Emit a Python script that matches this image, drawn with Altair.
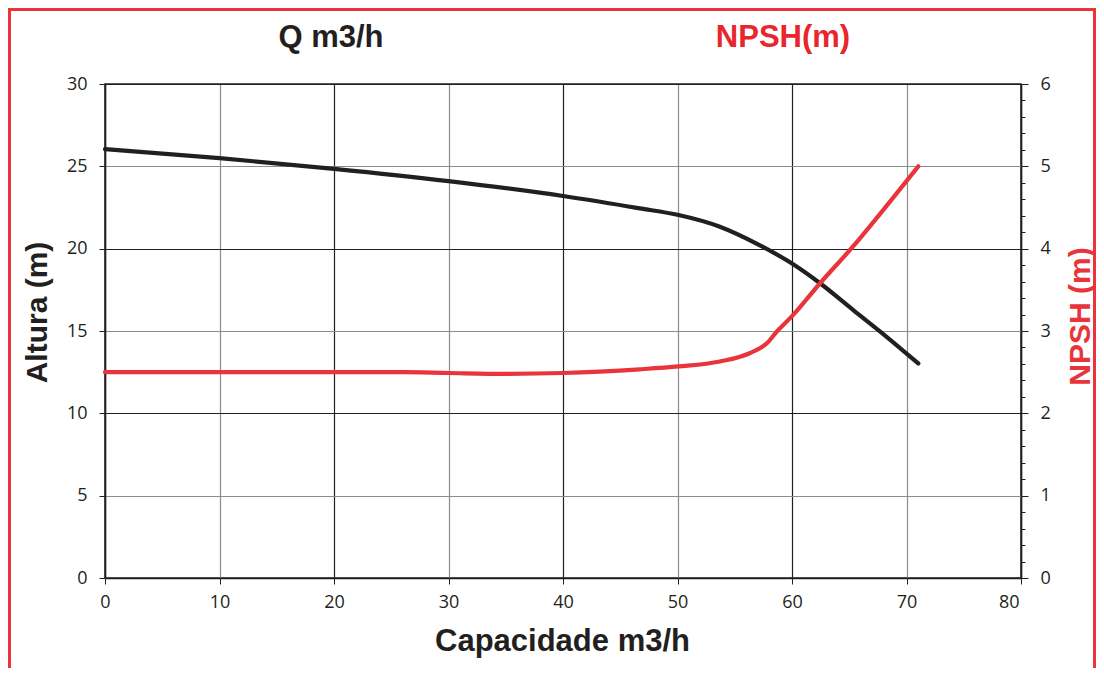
import altair as alt
import pandas as pd

# Altura (black) curve
q_alt = [0, 10, 20, 30, 40, 46.7, 50.1, 53.7, 57.2, 60.0, 62.45, 65.35, 68.26, 71.03]
altura = [26.05, 25.5, 24.85, 24.1, 23.2, 22.45, 22.04, 21.33, 20.2, 19.1, 17.9, 16.27, 14.65, 13.03]

# NPSH (red) curve
q_npsh = [0, 10, 20, 26, 30, 35, 40, 46.7, 50.1, 53.7, 56.3, 57.8, 58.65, 60.0, 62.45, 65.35, 68.26, 71.03]
npsh = [2.5, 2.5, 2.5, 2.5, 2.49, 2.48, 2.49, 2.535, 2.57, 2.63, 2.73, 2.85, 2.99, 3.18, 3.58, 4.03, 4.52, 5.0]

x_ticks = [0, 10, 20, 30, 40, 50, 60, 70, 80]
y_ticks = [0, 5, 10, 15, 20, 25, 30]
npsh_ticks = [round(i * 0.2, 1) for i in range(31)]

top_titles = ["Q m3/h", "NPSH(m)"]

BLACK = "#231f20"
RED = "#e8343a"
TITLE_RED = "#e8262d"
LABEL_FONT = "Open Sans"
TITLE_FONT = "Liberation Sans"

df_alt = pd.DataFrame({"q": q_alt, "altura": altura})
df_npsh = pd.DataFrame({"q": q_npsh, "npsh": npsh})

x_axis = alt.Axis(
    values=x_ticks, title="Capacidade m3/h", grid=True, labelFlush=False,
    labelAlign={"condition": {"test": "datum.value === 80", "value": "right"}, "value": "center"},
    labelOffset={"condition": {"test": "datum.value === 80", "value": -2}, "value": 0},
    gridColor={"condition": {"test": "datum.value % 20 === 0", "value": BLACK}, "value": "#8c8c8c"},
    gridWidth=1.2, tickSize=6, tickColor=BLACK, labelPadding=9,
    titleX=457, titleY=63, titleBaseline="middle", titleAlign="center", titleFontSize=31,
)
x_enc = alt.X("q:Q", scale=alt.Scale(domain=[0, 80], nice=False), axis=x_axis)

line_alt = alt.Chart(df_alt).mark_line(color=BLACK, strokeWidth=4.2, interpolate="monotone", strokeCap="round").encode(
    x=x_enc,
    y=alt.Y("altura:Q", scale=alt.Scale(domain=[0, 30], nice=False),
            axis=alt.Axis(values=y_ticks, title="Altura (m)", grid=True,
                          gridColor={"condition": {"test": "datum.value % 10 === 0", "value": BLACK}, "value": "#8c8c8c"},
                          gridWidth=1.2, tickSize=6, tickColor=BLACK, labelPadding=12,
                          titleAngle=270, titleX=-68, titleY=228, titleAlign="center", titleBaseline="middle")),
)

line_npsh = alt.Chart(df_npsh).mark_line(color=RED, strokeWidth=4.2, interpolate="monotone", strokeCap="round").encode(
    x=x_enc,
    y=alt.Y("npsh:Q", scale=alt.Scale(domain=[0, 6], nice=False),
            axis=alt.Axis(orient="right", values=npsh_ticks, title="NPSH (m)", grid=False,
                          tickSize={"condition": {"test": "abs(datum.value - round(datum.value)) < 0.01", "value": 7}, "value": 4},
                          tickColor=BLACK,
                          labelExpr="abs(datum.value - round(datum.value)) < 0.01 ? format(datum.value, 'd') : ''",
                          labelPadding=12, titleColor=RED,
                          titleAngle=270, titleX=59, titleY=232, titleAlign="center", titleBaseline="middle")),
)

one = pd.DataFrame({"a": [0]})
title_q = alt.Chart(one).mark_text(font=TITLE_FONT, fontWeight="bold", fontSize=31, baseline="middle",
                                   align="center", color=BLACK, text=top_titles[0]).encode(
    x=alt.value(226), y=alt.value(-46),
)
title_n = alt.Chart(one).mark_text(font=TITLE_FONT, fontWeight="bold", fontSize=31, baseline="middle",
                                   align="center", color=TITLE_RED, text=top_titles[1]).encode(
    x=alt.value(678), y=alt.value(-46),
)

frame = alt.Chart(one).mark_rect(fillOpacity=0, stroke=RED, strokeWidth=3).encode(
    x=alt.value(-95.5), x2=alt.value(989.5), y=alt.value(-74.5), y2=alt.value(700),
)

chart = alt.layer(line_alt, line_npsh, title_q, title_n, frame).resolve_scale(y="independent").properties(
    width=916, height=494,
    padding={"left": 97, "top": 76, "right": 75, "bottom": 90},
    autosize=alt.AutoSizeParams(type="none"),
    background="white",
).configure_view(stroke=BLACK, strokeWidth=1.5).configure_axis(
    labelFont=LABEL_FONT, labelFontSize=18, labelColor=BLACK,
    titleFont=TITLE_FONT, titleFontSize=30, titleFontWeight="bold", titleColor=BLACK,
    domainColor=BLACK, domainWidth=1.5,
)

chart.save("out.html", embed_options={"renderer": "svg", "actions": False})
